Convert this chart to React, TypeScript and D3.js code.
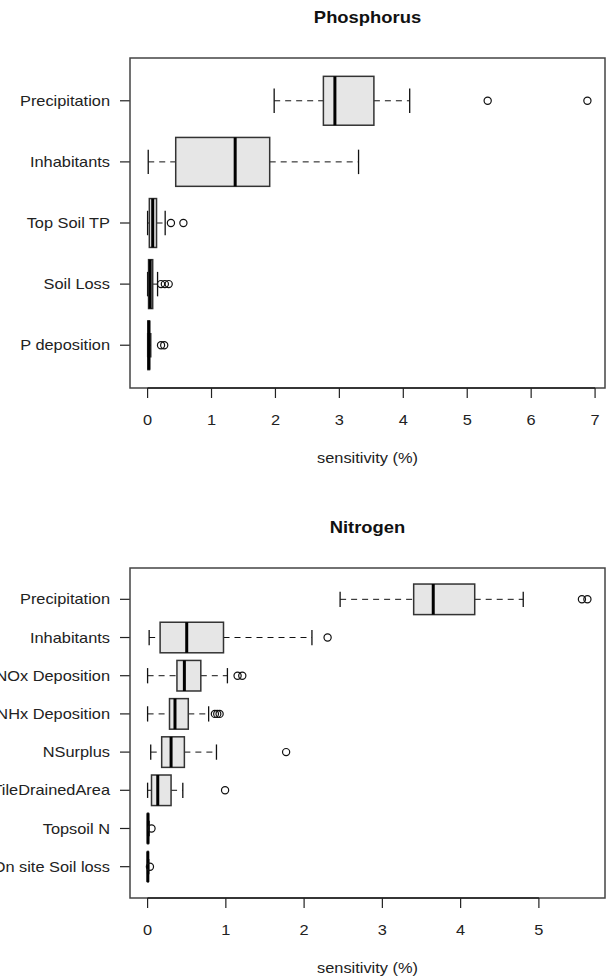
import * as d3 from 'd3';

// Phosphorus sensitivity, top to bottom
const pLabels = ['Precipitation', 'Inhabitants', 'Top Soil TP', 'Soil Loss', 'P deposition'];
const pLow = [1.98, 0.01, 0.0, 0.0, 0.0];
const pQ1 = [2.75, 0.44, 0.027, 0.015, 0.005];
const pMed = [2.93, 1.37, 0.08, 0.04, 0.02];
const pQ3 = [3.54, 1.91, 0.14, 0.08, 0.03];
const pHigh = [4.1, 3.3, 0.275, 0.156, 0.05];
const pOut = [[5.32, 6.88], [], [0.365, 0.56], [0.21, 0.27, 0.33], [0.21, 0.26]];
const pTicks = [0, 1, 2, 3, 4, 5, 6, 7];

// Nitrogen sensitivity, top to bottom
const nLabels = ['Precipitation', 'Inhabitants', 'NOx Deposition', 'NHx Deposition', 'NSurplus', 'TileDrainedArea', 'Topsoil N', 'On site Soil loss'];
const nLow = [2.46, 0.02, 0.0, 0.0, 0.04, 0.0, 0.0, 0.0];
const nQ1 = [3.4, 0.16, 0.375, 0.28, 0.18, 0.05, 0.0, 0.0];
const nMed = [3.65, 0.5, 0.47, 0.35, 0.3, 0.13, 0.005, 0.003];
const nQ3 = [4.18, 0.97, 0.68, 0.52, 0.47, 0.3, 0.01, 0.008];
const nHigh = [4.8, 2.1, 1.02, 0.78, 0.88, 0.45, 0.02, 0.015];
const nOut = [[5.55, 5.62], [2.3], [1.15, 1.21], [0.86, 0.89, 0.92], [1.77], [0.99], [0.05], [0.03]];
const nTicks = [0, 1, 2, 3, 4, 5];

const W = 609;
const H = 979;
const left = 130;
const right = 605;
const FONT = '"Liberation Sans", Arial, Helvetica, sans-serif';
const SX = 1.17; // text in the picture is a bit wide

type PanelProps = {
  title: string;
  labels: string[];
  low: number[];
  q1: number[];
  med: number[];
  q3: number[];
  high: number[];
  outliers: number[][];
  ticks: number[];
  top: number;
  bottom: number;
};

function Panel({ title, labels, low, q1, med, q3, high, outliers, ticks, top, bottom }: PanelProps) {
  const n = labels.length;
  const all = [...low, ...high, ...outliers.flat()];
  const [mn, mx] = d3.extent(all) as [number, number];
  const pad = (mx - mn) * 0.04;
  const x = d3.scaleLinear().domain([mn - pad, mx + pad]).range([left, right]);
  const y = d3.scaleLinear().domain([0.5 - 0.04 * n, n + 0.5 + 0.04 * n]).range([bottom, top]);
  const pos = (i: number) => y(n - i);
  const bh = y(0) - y(0.8); // boxwex 0.8
  const sh = bh / 4; // staple half length
  const cx = (left + right) / 2;

  return (
    <g>
      <text
        transform={`translate(${cx},${top - 35}) scale(1.15,1)`}
        textAnchor="middle"
        fontFamily={FONT}
        fontWeight="bold"
        fontSize={16}
        fill="#111"
      >
        {title}
      </text>

      {labels.map((lab, i) => {
        const cy = pos(i);
        return (
          <g key={lab}>
            <line x1={left - 10} x2={left} y1={cy} y2={cy} stroke="#222" strokeWidth={1.2} />
            <text
              transform={`translate(${left - 20},${cy}) scale(${SX},1)`}
              textAnchor="end"
              dy="0.36em"
              fontFamily={FONT}
              fontSize={14}
              fill="#222"
            >
              {lab}
            </text>
            {/* whiskers */}
            <line x1={x(low[i])} x2={x(q1[i])} y1={cy} y2={cy} stroke="#111" strokeDasharray="6,5" />
            <line x1={x(q3[i])} x2={x(high[i])} y1={cy} y2={cy} stroke="#111" strokeDasharray="6,5" />
            <line x1={x(low[i])} x2={x(low[i])} y1={cy - sh} y2={cy + sh} stroke="#111" strokeWidth={1.3} />
            <line x1={x(high[i])} x2={x(high[i])} y1={cy - sh} y2={cy + sh} stroke="#111" strokeWidth={1.3} />
            {/* box */}
            <rect
              x={x(q1[i])}
              y={cy - bh / 2}
              width={Math.max(0, x(q3[i]) - x(q1[i]))}
              height={bh}
              fill="#e6e6e6"
              stroke="#333"
              strokeWidth={1.5}
            />
            <line x1={x(med[i])} x2={x(med[i])} y1={cy - bh / 2} y2={cy + bh / 2} stroke="#000" strokeWidth={3} />
            {outliers[i].map((v, j) => (
              <circle key={j} cx={x(v)} cy={cy} r={3.6} fill="none" stroke="#111" strokeWidth={1.2} />
            ))}
          </g>
        );
      })}

      <rect x={left} y={top} width={right - left} height={bottom - top} fill="none" stroke="#444" strokeWidth={1.5} />

      {/* x axis */}
      <line x1={x(ticks[0])} x2={x(ticks[ticks.length - 1])} y1={bottom} y2={bottom} stroke="#222" strokeWidth={1.5} />
      {ticks.map((t) => (
        <g key={t}>
          <line x1={x(t)} x2={x(t)} y1={bottom} y2={bottom + 10} stroke="#222" strokeWidth={1.2} />
          <text
            transform={`translate(${x(t)},${bottom + 37}) scale(${SX},1)`}
            textAnchor="middle"
            fontFamily={FONT}
            fontSize={14}
            fill="#222"
          >
            {t}
          </text>
        </g>
      ))}
      <text
        transform={`translate(${cx},${bottom + 75}) scale(${SX},1)`}
        textAnchor="middle"
        fontFamily={FONT}
        fontSize={14}
        fill="#222"
      >
        sensitivity (%)
      </text>
    </g>
  );
}

export default function App() {
  return (
    <svg
      width={W}
      height={H}
      viewBox={`0 0 ${W} ${H}`}
      style={{ position: 'absolute', left: 0, top: 0, background: '#fff' }}
    >
      <Panel
        title="Phosphorus"
        labels={pLabels}
        low={pLow}
        q1={pQ1}
        med={pMed}
        q3={pQ3}
        high={pHigh}
        outliers={pOut}
        ticks={pTicks}
        top={58}
        bottom={388}
      />
      <Panel
        title="Nitrogen"
        labels={nLabels}
        low={nLow}
        q1={nQ1}
        med={nMed}
        q3={nQ3}
        high={nHigh}
        outliers={nOut}
        ticks={nTicks}
        top={568}
        bottom={898}
      />
    </svg>
  );
}
